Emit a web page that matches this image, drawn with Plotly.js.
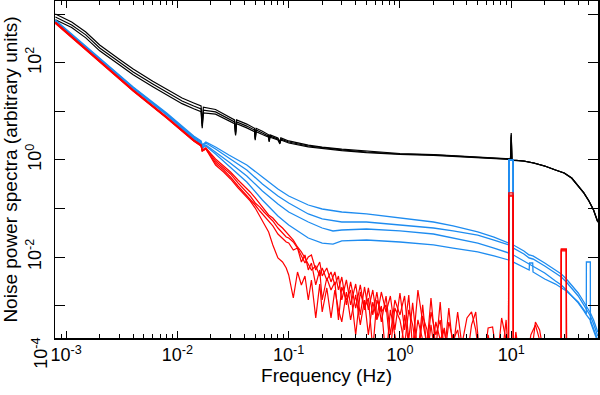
<!DOCTYPE html>
<html>
<head>
<meta charset="utf-8">
<script src="https://cdn.plot.ly/plotly-3.0.1.min.js"></script>
<style>
  html, body { margin: 0; padding: 0; background: #fff; }
  #plot { width: 600px; height: 395px; }
</style>
</head>
<body>
<div id="plot"></div>
<script>
// frequency grids (Hz)
const blackFreq = [0.0008, 0.00112, 0.0015, 0.002, 0.003, 0.004, 0.006, 0.008, 0.011, 0.014,
  0.0163, 0.0167, 0.0171, 0.022, 0.029, 0.0326, 0.0333, 0.034, 0.042, 0.0493,
  0.05, 0.051, 0.058, 0.066, 0.0667, 0.068, 0.08, 0.0833, 0.085, 0.1,
  0.15, 0.2, 0.3, 0.5, 0.7, 1, 2, 3, 5, 7,
  9.5, 9.85, 10, 10.15, 10.5, 13, 16, 20, 25, 30,
  35, 40, 45, 50, 55, 60];

const blueFreq = [0.0008, 0.002, 0.004, 0.008, 0.011, 0.014, 0.0163, 0.0167, 0.018, 0.022,
  0.029, 0.042, 0.058, 0.08, 0.1, 0.15, 0.2, 0.25, 0.3, 0.5,
  1, 2, 3, 5, 7, 9.5, 9.55, 10.4, 10.45, 13,
  14.5, 14.6, 15.6, 15.7, 20, 25, 28.2, 31.3, 35, 40,
  45, 47.3, 47.4, 51.4, 51.5, 55, 60];

const redFreq = [0.0008, 0.002, 0.004, 0.008, 0.011, 0.014, 0.0163, 0.0167, 0.018, 0.022,
  0.026, 0.03, 0.035, 0.04, 0.045, 0.05, 0.055, 0.06, 0.066, 0.072,
  0.08, 0.088, 0.095,
  0.1, 0.11, 0.12, 0.13, 0.14, 0.15, 0.16, 0.175, 0.19, 0.2,
  0.22, 0.24, 0.26, 0.28, 0.3, 0.33, 0.36, 0.4, 0.44, 0.48,
  0.52, 0.57, 0.62, 0.68, 0.75, 0.82, 0.9, 1.0, 1.1, 1.2,
  1.3, 1.45, 1.6, 1.75, 1.9, 2.1, 2.3, 2.5, 2.75, 3.0,
  3.3, 3.6, 4.0, 4.4, 4.8, 5.2, 5.7, 6.2, 6.8, 7.5,
  8.2, 9.0, 9.45, 9.5, 10.4, 10.45, 11, 12, 13, 14,
  15, 16.5, 18, 20, 22, 25, 28.1, 28.2, 31.3, 31.4,
  35, 40, 50, 60];

// black spectra
const black1 = [1020, 700, 435, 235, 120, 75, 42, 29, 19, 15,
  13, 5.6, 12.3, 11.0, 7.8, 6.7, 3.7, 6.7, 5.5, 4.5,
  2.9, 4.5, 3.9, 3.3, 2.6, 3.3, 2.85, 2.35, 2.85, 2.47,
  2.03, 1.84, 1.67, 1.51, 1.43, 1.36, 1.29, 1.23, 1.17, 1.11,
  1.06, 1.05, 3.3, 1.01, 1.0, 0.954, 0.867, 0.752, 0.622, 0.54,
  0.425, 0.291, 0.209, 0.143, 0.093, 0.053];
const black2 = [890, 610, 380, 204, 105, 65, 37, 25, 16.5, 13.0,
  11.3, 5.0, 10.7, 9.8, 7.0, 6.1, 3.4, 6.1, 5.0, 4.15,
  2.7, 4.15, 3.6, 3.1, 2.46, 3.1, 2.7, 2.24, 2.7, 2.35,
  1.94, 1.77, 1.61, 1.46, 1.39, 1.33, 1.27, 1.21, 1.15, 1.10,
  1.05, 1.04, 3.6, 1.0, 0.99, 0.954, 0.867, 0.752, 0.622, 0.54,
  0.425, 0.291, 0.209, 0.143, 0.093, 0.053];
const black3 = [780, 540, 330, 178, 92, 57, 32.5, 22, 14.5, 11.4,
  9.9, 4.5, 9.3, 8.8, 6.4, 5.6, 3.2, 5.6, 4.6, 3.85,
  2.55, 3.85, 3.35, 2.95, 2.35, 2.95, 2.58, 2.15, 2.58, 2.24,
  1.86, 1.71, 1.56, 1.42, 1.36, 1.30, 1.25, 1.19, 1.14, 1.09,
  1.04, 1.03, 3.0, 0.99, 0.98, 0.95, 0.86, 0.75, 0.62, 0.535,
  0.42, 0.288, 0.207, 0.141, 0.092, 0.052];

// blue spectra
const blue1 = [771, 127, 32.0, 9.31, 5.02, 3.12, 2.46, 2.04, 2.35, 1.85,
  1.27, 0.788, 0.446, 0.252, 0.181, 0.118, 0.0977, 0.0888, 0.0847, 0.0771,
  0.0637, 0.0527, 0.0436, 0.0328, 0.0258, 0.0194, 1.0, 1.0, 0.0177, 0.0133,
  0.0110, 0.0110, 0.0105, 0.0105, 0.00752, 0.0054, 0.00446, 0.00352, 0.00265, 0.00181,
  0.00118, 0.000977, 0.000977, 0.0007, 0.0007, 0.000502, 0.000284];
const blue2 = [735, 121, 31.1, 8.88, 4.79, 2.98, 2.35, 1.94, 2.24, 1.69,
  1.10, 0.622, 0.320, 0.181, 0.130, 0.0771, 0.0608, 0.0552, 0.0527, 0.0527,
  0.0457, 0.0396, 0.0344, 0.0284, 0.0224, 0.0177, 1.0, 1.0, 0.0153, 0.0115,
  0.00953, 0.00953, 0.0091, 0.0091, 0.00652, 0.00468, 0.00387, 0.00305, 0.0023, 0.00157,
  0.00102, 0.000847, 0.000847, 0.000608, 0.000608, 0.000416, 0.000235];
const blue3 = [735, 121, 30.5, 8.67, 4.57, 2.84, 2.24, 1.85, 2.04, 1.46,
  0.910, 0.468, 0.230, 0.124, 0.0847, 0.0527, 0.0396, 0.0344, 0.0360, 0.0378,
  0.0344, 0.0298, 0.0246, 0.0194, 0.0153, 0.0121, 1.0, 1.0, 0.0110, 0.00828,
  0.00717, 0.00717, 0.00652, 0.00652, 0.00468, 0.0032, 0.00265, 0.00209, 0.00157, 0.00113,
  0.000771, 0.000637, 0.000637, 0.000502, 0.000502, 0.000344, 0.000194];
const blue4 = [700, 115, 29.8, 8.47, 4.36, 2.71, 2.14, 1.77, 1.94, 1.33,
  0.752, 0.352, 0.150, 0.0700, 0.0457, 0.0246, 0.0194, 0.0185, 0.0214, 0.0224,
  0.0204, 0.0177, 0.0153, 0.0127, 0.0105, 0.00867, 1.0, 1.0, 0.00789, 0.00622,
  0.0054, 0.00752, 0.00752, 0.00491, 0.00352, 0.00277, 0.0023, 0.00199, 0.00157, 0.00118,
  0.00081, 0.000668, 0.00789, 0.00789, 0.000457, 0.000313, 0.000177];

// red spectra
const red1 = [700, 110, 27.7, 7.70, 4.15, 2.58, 2.04, 1.61, 1.77, 1.05,
  0.752, 0.566, 0.387, 0.291, 0.219, 0.165, 0.124, 0.0931, 0.0735, 0.0637,
  0.0479, 0.0396, 0.0328,
  0.0298, 0.0224, 0.0161, 0.0127, 0.00954, 0.00717, 0.0054, 0.00652, 0.00406, 0.00593,
  0.00336, 0.00491, 0.00265, 0.00406, 0.0013, 0.00336, 0.00103, 0.00278, 0.000639, 0.00241,
  0.00081, 0.00209, 0.000554, 0.0019, 0.000735, 0.00157, 0.000314, 0.00181, 0.000314, 0.00165,
  0.000121, 0.00209, 0.000458, 0.000154, 0.00143, 0.000121, 0.00118, 0.0000957, 0.000888, 0.000121,
  0.000735, 0.000154, 0.000554, 0.000735, 0.000314, 0.000075, 0.000075, 0.000247, 0.000075, 0.000075,
  0.000554, 0.000195, 0.000075, 0.209, 0.209, 0.000075, 0.000285, 0.000075, 0.000075, 0.000075,
  0.000075, 0.000458, 0.000314, 0.000075, 0.000075, 0.000075, 0.000075, 0.0146, 0.0146, 0.000075,
  0.000075, 0.000075, 0.000075, 0.000075];
const red2 = [685, 110, 27.7, 7.70, 4.15, 2.58, 2.04, 1.61, 1.77, 0.954,
  0.684, 0.515, 0.336, 0.241, 0.181, 0.130, 0.107, 0.0847, 0.0668, 0.0552,
  0.0396, 0.0313, 0.0258,
  0.0246, 0.0204, 0.0153, 0.0105, 0.00752, 0.0100, 0.0110, 0.0054, 0.00789, 0.00406,
  0.00593, 0.00306, 0.00491, 0.00209, 0.00387, 0.00103, 0.00306, 0.000888, 0.00265, 0.00081,
  0.0023, 0.000639, 0.0019, 0.000458, 0.00157, 0.000247, 0.0013, 0.000639, 0.00157, 0.000195,
  0.00113, 0.0000957, 0.00103, 0.000121, 0.000735, 0.000247, 0.000504, 0.000075, 0.000458, 0.000195,
  0.000314, 0.0000957, 0.000075, 0.000398, 0.000735, 0.0000957, 0.000075, 0.000345, 0.000362, 0.000075,
  0.000075, 0.000504, 0.000075, 0.19, 0.19, 0.000075, 0.000075, 0.000075, 0.000075, 0.000075,
  0.000247, 0.000398, 0.000195, 0.000075, 0.000075, 0.000075, 0.000075, 0.0146, 0.0146, 0.000075,
  0.000075, 0.000075, 0.000075, 0.000075];
const red3 = [668, 105, 26.5, 7.34, 3.97, 2.46, 1.94, 1.53, 1.69, 0.867,
  0.622, 0.446, 0.291, 0.209, 0.157, 0.118, 0.0888, 0.0700, 0.0527, 0.0436,
  0.0298, 0.0246, 0.0204,
  0.0194, 0.0139, 0.0153, 0.00789, 0.0110, 0.0054, 0.00752, 0.00265, 0.0054, 0.0013,
  0.00369, 0.00209, 0.00306, 0.000504, 0.00241, 0.0013, 0.00209, 0.000247, 0.0019, 0.000888,
  0.00143, 0.000121, 0.0013, 0.000735, 0.00103, 0.000121, 0.000888, 0.000504, 0.000154, 0.00081,
  0.000398, 0.000075, 0.000609, 0.000314, 0.000075, 0.000458, 0.000195, 0.000314, 0.000075, 0.000247,
  0.000121, 0.000195, 0.000075, 0.000154, 0.000075, 0.000075, 0.000075, 0.000075, 0.000075, 0.000075,
  0.000075, 0.000075, 0.000075, 0.181, 0.181, 0.000075, 0.000075, 0.000075, 0.000075, 0.000075,
  0.000075, 0.000075, 0.000075, 0.000075, 0.000075, 0.000075, 0.000075, 0.0133, 0.0133, 0.000075,
  0.000075, 0.000075, 0.000075, 0.000075];
const red4 = [650, 105, 26.5, 7.34, 3.97, 2.46, 1.94, 1.53, 1.69, 0.788,
  0.566, 0.406, 0.265, 0.190, 0.143, 0.102, 0.0700, 0.0479, 0.0328, 0.0177,
  0.00953, 0.00789, 0.00593,
  0.00426, 0.00143, 0.00491, 0.00265, 0.00406, 0.0013, 0.00336, 0.000554, 0.00278, 0.000735,
  0.0023, 0.000554, 0.00209, 0.00081, 0.000458, 0.0019, 0.000504, 0.00165, 0.000398, 0.0013,
  0.000247, 0.00118, 0.000504, 0.000977, 0.000075, 0.00081, 0.000247, 0.000075, 0.000639, 0.000154,
  0.000075, 0.000504, 0.000195, 0.000075, 0.000398, 0.000075, 0.000154, 0.000345, 0.000075, 0.000195,
  0.000075, 0.000154, 0.000075, 0.000075, 0.000121, 0.000075, 0.000075, 0.000075, 0.000075, 0.000075,
  0.000075, 0.000075, 0.000075, 0.181, 0.181, 0.000075, 0.000075, 0.000075, 0.000075, 0.000075,
  0.000075, 0.000075, 0.000075, 0.000075, 0.000075, 0.000075, 0.000075, 0.0139, 0.0139, 0.000075,
  0.000075, 0.000075, 0.000075, 0.000075];

// ticks
const xTickVals = [0.001, 0.01, 0.1, 1, 10];
const xTickText = ["10<sup>-3</sup>", "10<sup>-2</sup>", "10<sup>-1</sup>", "10<sup>0</sup>", "10<sup>1</sup>"];
const xMinorVals = [0.0008, 0.0009,
  0.002, 0.003, 0.004, 0.005, 0.006, 0.007, 0.008, 0.009,
  0.02, 0.03, 0.04, 0.05, 0.06, 0.07, 0.08, 0.09,
  0.2, 0.3, 0.4, 0.5, 0.6, 0.7, 0.8, 0.9,
  2, 3, 4, 5, 6, 7, 8, 9,
  20, 30, 40, 50];
const yTickVals = [0.001, 0.01, 0.1, 1, 10, 100, 1000];
const yTickText = ["", "10<sup>-2</sup>", "", "10<sup>0</sup>", "", "10<sup>2</sup>", ""];

const BLACK = "#000000";
const BLUE = "#1e8cf0";
const RED = "#ff0000";
const FONT = "Liberation Sans, Arial, Helvetica, sans-serif";

const trace = (x, y, color, width) => ({
  x: x, y: y, type: "scatter", mode: "lines",
  line: { color: color, width: width },
  hoverinfo: "skip", showlegend: false
});

const data = [
  trace(blackFreq, black1, BLACK, 1.2),
  trace(blackFreq, black2, BLACK, 1.2),
  trace(blackFreq, black3, BLACK, 1.2),
  trace(blueFreq, blue1, BLUE, 1.3),
  trace(blueFreq, blue2, BLUE, 1.3),
  trace(blueFreq, blue3, BLUE, 1.3),
  trace(blueFreq, blue4, BLUE, 1.3),
  trace(redFreq, red1, RED, 1.2),
  trace(redFreq, red2, RED, 1.2),
  trace(redFreq, red3, RED, 1.2),
  trace(redFreq, red4, RED, 1.2)
];

const layout = {
  width: 600,
  height: 395,
  margin: { l: 55, r: 2, t: 1, b: 57 },
  paper_bgcolor: "#fff",
  plot_bgcolor: "#fff",
  font: { family: FONT, size: 18, color: BLACK },
  xaxis: {
    type: "log",
    range: [-3.1006, 1.78],
    tickmode: "array",
    tickvals: xTickVals,
    ticktext: xTickText,
    ticks: "inside",
    ticklen: 7,
    tickwidth: 1,
    tickcolor: BLACK,
    minor: { tickmode: "array", tickvals: xMinorVals, ticks: "inside", ticklen: 4, tickwidth: 1, tickcolor: BLACK, showgrid: false },
    showline: true,
    linecolor: BLACK,
    linewidth: 1.5,
    mirror: "ticks",
    showgrid: false,
    zeroline: false,
    tickfont: { size: 18 },
    title: { text: "Frequency (Hz)", font: { size: 19 }, standoff: 2 }
  },
  yaxis: {
    type: "log",
    range: [-3.67, 3.278],
    tickmode: "array",
    tickvals: yTickVals,
    ticktext: yTickText,
    tickangle: -90,
    ticks: "inside",
    ticklen: 10,
    tickwidth: 1,
    tickcolor: BLACK,
    ticklabelstandoff: 5,
    showline: true,
    linecolor: BLACK,
    linewidth: 1.5,
    mirror: "ticks",
    showgrid: false,
    zeroline: false,
    tickfont: { size: 18 },
    title: { text: "Noise power spectra (arbitrary units)", font: { size: 19 }, standoff: 2 }
  },
  annotations: [{
    text: "10<sup>-4</sup>",
    xref: "paper", yref: "paper",
    x: -0.027, y: -0.046,
    xanchor: "center", yanchor: "middle",
    textangle: -90,
    showarrow: false,
    font: { family: FONT, size: 18, color: BLACK }
  }]
};

Plotly.newPlot("plot", data, layout, { staticPlot: true, displayModeBar: false });
</script>
</body>
</html>
